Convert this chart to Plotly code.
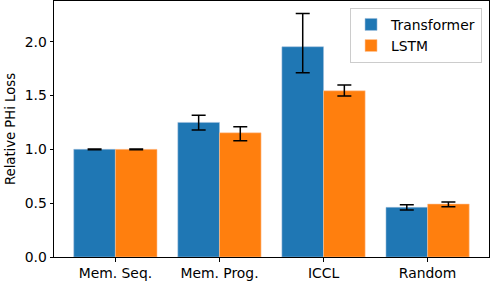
import plotly.graph_objects as go

categories = ["Mem. Seq.", "Mem. Prog.", "ICCL", "Random"]
transformer = [1.0, 1.25, 1.953, 0.461]
transformer_err_plus = [0.004, 0.067, 0.31, 0.025]
transformer_err_minus = [0.004, 0.071, 0.242, 0.025]
lstm = [1.0, 1.154, 1.544, 0.492]
lstm_err_plus = [0.004, 0.056, 0.053, 0.02]
lstm_err_minus = [0.004, 0.074, 0.049, 0.025]
yticks = [0.0, 0.5, 1.0, 1.5, 2.0]

font = dict(family="DejaVu Sans", size=13.9, color="black")

fig = go.Figure()
fig.add_trace(go.Bar(
    name="Transformer", x=categories, y=transformer,
    marker=dict(color="#1f77b4", line=dict(width=0.6, color="rgba(160,190,220,0.9)")),
    error_y=dict(type="data", array=transformer_err_plus, arrayminus=transformer_err_minus,
                 symmetric=False, color="black", thickness=1.5, width=7),
))
fig.add_trace(go.Bar(
    name="LSTM", x=categories, y=lstm,
    marker=dict(color="#ff7f0e", line=dict(width=0.6, color="rgba(255,200,160,0.9)")),
    error_y=dict(type="data", array=lstm_err_plus, arrayminus=lstm_err_minus,
                 symmetric=False, color="black", thickness=1.5, width=7),
))

fig.update_layout(
    width=492, height=282,
    margin=dict(l=54, r=3, t=1, b=25),
    paper_bgcolor="white", plot_bgcolor="white",
    barmode="group", bargap=0.2, bargroupgap=0,
    font=font,
    showlegend=True,
    legend=dict(
        x=0.984, xanchor="right", y=0.973, yanchor="top",
        bgcolor="rgba(255,255,255,0.8)", bordercolor="#cccccc", borderwidth=1,
        font=font,
        tracegroupgap=0,
    ),
)
fig.update_xaxes(
    range=[-0.59, 3.59], showline=True, mirror=True, linecolor="black", linewidth=1,
    ticks="outside", ticklen=3.5, tickwidth=0.8, tickcolor="black",
    showgrid=False, zeroline=False, tickfont=font,
)
fig.update_yaxes(
    range=[0, 2.378], showline=True, mirror=True, linecolor="black", linewidth=1,
    ticks="outside", ticklen=3.5, tickwidth=0.8, tickcolor="black",
    tickvals=yticks, ticktext=[f"{v:.1f}" for v in yticks],
    showgrid=False, zeroline=False, tickfont=font,
    title=dict(text="Relative PHi Loss", font=dict(family="DejaVu Sans", size=13.2, color="black"), standoff=6),
)

fig.write_html(
    "out.html",
    config={"displayModeBar": False},
    post_script="document.body.style.margin='0';document.body.style.padding='0';",
)
